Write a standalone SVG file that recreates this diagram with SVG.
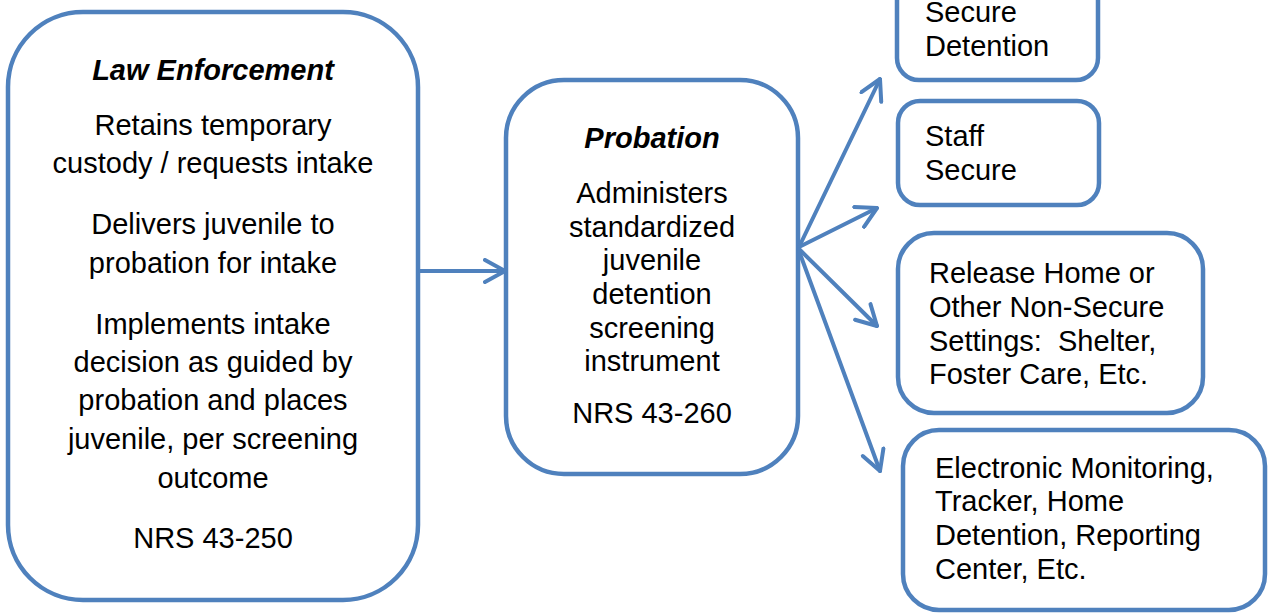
<svg xmlns="http://www.w3.org/2000/svg" width="1268" height="613" viewBox="0 0 1268 613">
<style>
.box{fill:#fff;stroke:#4F81BD;stroke-width:4.5}
.t{font-family:"Liberation Sans",Arial,sans-serif;font-size:29px;fill:#000;white-space:pre}
.c{text-anchor:middle}
.h{font-weight:bold;font-style:italic}
.con{fill:none;stroke:#4F81BD;stroke-width:4;stroke-linecap:round;stroke-linejoin:round}
</style>
<defs>
<marker id="arr" viewBox="0 0 24 26" refX="22" refY="13" markerWidth="24" markerHeight="26" markerUnits="userSpaceOnUse" orient="auto">
<path d="M2,2 L22,13 L2,24" fill="none" stroke="#4F81BD" stroke-width="4" stroke-linecap="round" stroke-linejoin="round"/>
</marker>
</defs>
<rect width="1268" height="613" fill="#fff"/>
<g id="law-enforcement">
<rect class="box" x="8" y="12" width="410" height="588" rx="75" ry="75"/>
<text class="t c h" x="213" y="80">Law Enforcement</text>
<text class="t c" x="213" y="135">Retains temporary</text>
<text class="t c" x="213" y="173">custody / requests intake</text>
<text class="t c" x="213" y="234">Delivers juvenile to</text>
<text class="t c" x="213" y="273">probation for intake</text>
<text class="t c" x="213" y="334">Implements intake</text>
<text class="t c" x="213" y="372">decision as guided by</text>
<text class="t c" x="213" y="410">probation and places</text>
<text class="t c" x="213" y="449">juvenile, per screening</text>
<text class="t c" x="213" y="488">outcome</text>
<text class="t c" x="213" y="548">NRS 43-250</text>
</g>
<g id="probation">
<rect class="box" x="506" y="80" width="292" height="394" rx="58" ry="58"/>
<text class="t c h" x="652" y="148">Probation</text>
<text class="t c" x="652" y="203">Administers</text>
<text class="t c" x="652" y="237">standardized</text>
<text class="t c" x="652" y="270">juvenile</text>
<text class="t c" x="652" y="304">detention</text>
<text class="t c" x="652" y="338">screening</text>
<text class="t c" x="652" y="371">instrument</text>
<text class="t c" x="652" y="423">NRS 43-260</text>
</g>
<g id="secure-detention">
<rect class="box" x="897" y="-40" width="201" height="120" rx="22" ry="22"/>
<text class="t" x="925" y="22">Secure</text>
<text class="t" x="925" y="56">Detention</text>
</g>
<g id="staff-secure">
<rect class="box" x="898" y="101" width="201" height="104" rx="22" ry="22"/>
<text class="t" x="925" y="146">Staff</text>
<text class="t" x="925" y="180">Secure</text>
</g>
<g id="release-home">
<rect class="box" x="898" y="233" width="305" height="180" rx="36" ry="36"/>
<text class="t" x="929" y="283">Release Home or</text>
<text class="t" x="929" y="317">Other Non-Secure</text>
<text class="t" x="929" y="351" xml:space="preserve">Settings:  Shelter,</text>
<text class="t" x="929" y="384">Foster Care, Etc.</text>
</g>
<g id="electronic-monitoring">
<rect class="box" x="903" y="430" width="362" height="180" rx="36" ry="36"/>
<text class="t" x="935" y="478">Electronic Monitoring,</text>
<text class="t" x="935" y="511">Tracker, Home</text>
<text class="t" x="935" y="545">Detention, Reporting</text>
<text class="t" x="935" y="579">Center, Etc.</text>
</g>
<g id="connectors">
<line class="con" x1="420" y1="271" x2="505" y2="271" marker-end="url(#arr)"/>
<line class="con" x1="799" y1="247" x2="880" y2="79" marker-end="url(#arr)"/>
<line class="con" x1="799" y1="247" x2="877" y2="208" marker-end="url(#arr)"/>
<line class="con" x1="799" y1="249" x2="877" y2="326" marker-end="url(#arr)"/>
<line class="con" x1="799" y1="251" x2="880" y2="471" marker-end="url(#arr)"/>
</g>
</svg>
